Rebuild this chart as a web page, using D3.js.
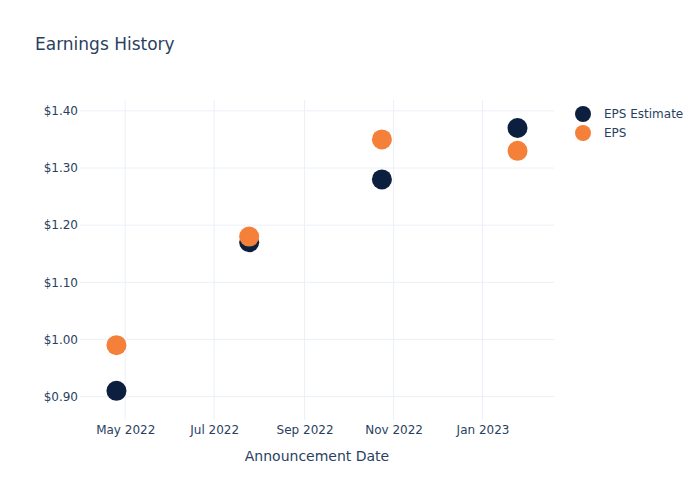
<!DOCTYPE html>
<html><head><meta charset="utf-8">
<script src="https://cdn.jsdelivr.net/npm/d3@7"></script>
<style>body{margin:0;background:#fff}text{font-family:"DejaVu Sans",Verdana,sans-serif}</style>
</head><body>
<svg id="c" width="700" height="500"></svg>
<script>
const dates = ["2022-04-25","2022-07-25","2022-10-24","2023-01-25"];
const epsEstimate = [0.91, 1.17, 1.28, 1.37];
const eps = [0.99, 1.18, 1.35, 1.33];
const yTicks = [0.9, 1.0, 1.1, 1.2, 1.3, 1.4];
const xTicks = ["2022-05-01","2022-07-01","2022-09-01","2022-11-01","2023-01-01"];
const seriesNames = ["EPS Estimate","EPS"];
const colors = ["#0c1f3f","#f5803a"];

const parse = d3.utcParse("%Y-%m-%d");
const svg = d3.select("#c");
const L=80,R=554,T=100,B=420;
const x = d3.scaleUtc().domain([parse("2022-03-31"), parse("2023-02-19")]).range([L,R]);
const y = d3.scaleLinear().domain([0.859,1.419]).range([B,T]);
const textCol="#2a3f5f", gridCol="#ebf0f8";
const FONT='"DejaVu Sans",Verdana,sans-serif';

// grid
svg.append("g").selectAll("line").data(xTicks).join("line")
  .attr("x1",d=>x(parse(d))).attr("x2",d=>x(parse(d))).attr("y1",T).attr("y2",B)
  .attr("stroke",gridCol).attr("stroke-width",1);
svg.append("g").selectAll("line").data(yTicks).join("line")
  .attr("x1",L).attr("x2",R).attr("y1",d=>y(d)).attr("y2",d=>y(d))
  .attr("stroke",gridCol).attr("stroke-width",1);

// axes
const xa = svg.append("g").attr("transform",`translate(0,${B})`)
  .call(d3.axisBottom(x).tickValues(xTicks.map(parse)).tickFormat(d3.utcFormat("%b %Y")).tickSize(0).tickPadding(5));
const ya = svg.append("g").attr("transform",`translate(${L},0)`)
  .call(d3.axisLeft(y).tickValues(yTicks).tickFormat(d=>"$"+d.toFixed(2)).tickSize(0).tickPadding(2));
[xa,ya].forEach(a=>{a.select(".domain").remove();a.selectAll("text").attr("fill",textCol).attr("font-size",12).attr("font-family",FONT);});

// points
const series=[epsEstimate,eps];
series.forEach((vals,i)=>{
  svg.append("g").selectAll("circle").data(vals).join("circle")
    .attr("cx",(d,j)=>x(parse(dates[j]))).attr("cy",d=>y(d)).attr("r",10)
    .attr("fill",colors[i]);
});

// title
svg.append("text").attr("x",35).attr("y",50).attr("font-size",17).attr("fill",textCol).text("Earnings History");
svg.append("text").attr("x",(L+R)/2).attr("y",461).attr("text-anchor","middle").attr("font-size",14).attr("fill",textCol).text("Announcement Date");

// legend
const lg = svg.append("g");
seriesNames.forEach((n,i)=>{
  lg.append("circle").attr("cx",583).attr("cy",114+i*19).attr("r",8).attr("fill",colors[i]);
  lg.append("text").attr("x",604).attr("y",118+i*19).attr("font-size",12).attr("fill",textCol).text(n);
});
</script>
</body></html>
